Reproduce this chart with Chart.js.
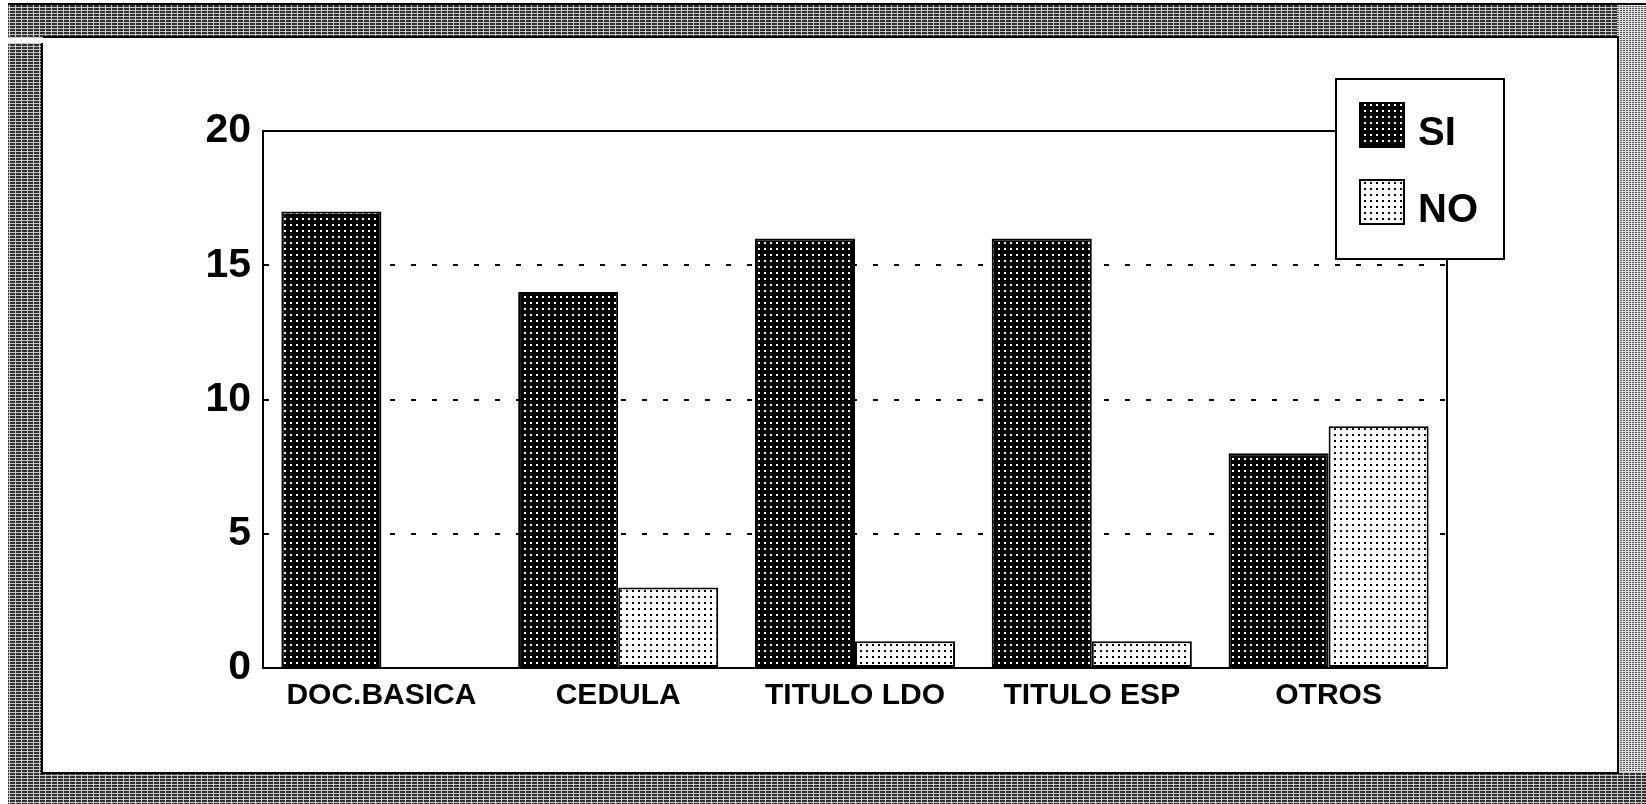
<!DOCTYPE html>
<html><head><meta charset="utf-8">
<script src="https://cdn.jsdelivr.net/npm/chart.js@4/dist/chart.umd.min.js"></script>
<style>html,body{margin:0;padding:0;background:#fff;overflow:hidden}canvas{display:block}</style>
</head><body>
<canvas id="c" width="1646" height="804"></canvas>
<script>
const categories = ['DOC.BASICA', 'CEDULA', 'TITULO LDO', 'TITULO ESP', 'OTROS'];
const siValues = [17, 14, 16, 16, 8];
const noValues = [0, 3, 1, 1, 9];
const seriesNames = ['SI', 'NO'];
const yTicks = [0, 5, 10, 15, 20];
const gridValues = [5, 10, 15];

const canvas = document.getElementById('c');
const ctx = canvas.getContext('2d');
const FONT = '"Liberation Sans", Arial, Helvetica, sans-serif';

function makeTile(size, draw) {
  const t = document.createElement('canvas');
  t.width = size; t.height = size;
  draw(t.getContext('2d'));
  return ctx.createPattern(t, 'repeat');
}
const siPattern = makeTile(6, g => { g.fillStyle = '#000'; g.fillRect(0,0,6,6); g.fillStyle = '#fff'; g.fillRect(2,2,2,2); });
const noPattern = makeTile(6, g => { g.fillStyle = '#fff'; g.fillRect(0,0,6,6); g.fillStyle = '#000'; g.fillRect(2,2,2,2); });
const framePattern = makeTile(6, g => {
  g.fillStyle = '#2e2e2e'; g.fillRect(0,0,6,6);
  g.fillStyle = '#c8c8c8'; g.fillRect(0,1,6,1); g.fillRect(0,4,6,1); g.fillRect(3,0,1,6);
});
const frameLightPattern = makeTile(6, g => {
  g.fillStyle = '#555'; g.fillRect(0,0,6,6);
  g.fillStyle = '#e0e0e0'; g.fillRect(0,1,6,1); g.fillRect(0,3,6,1); g.fillRect(0,5,6,1); g.fillRect(2,0,1,6); g.fillRect(5,0,1,6);
});

const framePlugin = {
  id: 'frame',
  beforeDraw(chart) {
    const c = chart.ctx, W = chart.width, H = chart.height;
    c.save();
    c.fillStyle = '#fff'; c.fillRect(0, 0, W, H);
    c.fillStyle = framePattern;
    c.fillRect(8, 3, W - 8, 35);
    c.fillRect(8, 43, 35, H - 43);
    c.fillRect(8, 772, W - 8, H - 772);
    c.fillStyle = frameLightPattern;
    c.fillRect(1617, 3, W - 1617, 769);
    c.fillStyle = '#000';
    c.fillRect(8, 3, W - 8, 2);
    c.fillRect(43, 36, 1574, 2);
    c.fillRect(41, 43, 2, 731);
    c.fillRect(43, 772, 1576, 2);
    c.fillRect(1617, 36, 2, 738);
    c.restore();
  },
  afterDraw(chart) {
    const c = chart.ctx, a = chart.chartArea;
    c.save();
    c.strokeStyle = '#000'; c.lineWidth = 2;
    c.beginPath();
    c.moveTo(a.left, a.top); c.lineTo(a.right, a.top); c.lineTo(a.right, a.bottom);
    c.stroke();
    // legend
    const bx = 1336, by = 79, bw = 168, bh = 180;
    c.fillStyle = '#fff'; c.fillRect(bx, by, bw, bh);
    c.strokeRect(bx, by, bw, bh);
    const rows = [125, 202];
    chart.data.datasets.forEach((ds, i) => {
      const cy = rows[i];
      c.fillStyle = ds.backgroundColor;
      c.fillRect(1360, cy - 22, 44, 44);
      c.strokeStyle = '#000'; c.lineWidth = 2;
      c.strokeRect(1360, cy - 22, 44, 44);
      c.fillStyle = '#000';
      c.font = 'bold 40px ' + FONT;
      c.textBaseline = 'middle'; c.textAlign = 'left';
      c.fillText(ds.label, 1418, cy + 9);
    });
    c.restore();
  }
};

new Chart(canvas, {
  type: 'bar',
  data: {
    labels: categories,
    datasets: [
      { label: seriesNames[0], data: siValues, backgroundColor: siPattern, borderColor: '#000', borderWidth: 2, borderSkipped: false, categoryPercentage: 0.845, barPercentage: 1 },
      { label: seriesNames[1], data: noValues, backgroundColor: noPattern, borderColor: '#000', borderWidth: 2, borderSkipped: false, categoryPercentage: 0.845, barPercentage: 1 }
    ]
  },
  options: {
    responsive: false,
    animation: false,
    devicePixelRatio: 1,
    layout: { padding: { left: 100, right: 199, top: 131, bottom: 0 } },
    plugins: { legend: { display: false }, tooltip: { enabled: false } },
    scales: {
      x: {
        grid: { display: false, drawTicks: false },
        border: { display: true, color: '#000', width: 2 },
        ticks: { color: '#000', font: { family: FONT, size: 30, weight: 'bold' }, padding: 10, maxRotation: 0, autoSkip: false },
        afterFit(s) { s.height = 136; }
      },
      y: {
        min: 0, max: 20,
        afterBuildTicks(s) { s.ticks = yTicks.map(v => ({ value: v })); },
        grid: {
          drawTicks: false, lineWidth: 2,
          color: c => (c.tick && gridValues.includes(c.tick.value)) ? '#000' : 'rgba(0,0,0,0)'
        },
        border: { display: true, color: '#000', width: 2, dash: [5, 16] },
        ticks: { color: '#000', font: { family: FONT, size: 41, weight: 'bold' }, padding: 12 },
        afterFit(s) { s.width = 163; }
      }
    }
  },
  plugins: [framePlugin]
});
</script>
</body></html>
